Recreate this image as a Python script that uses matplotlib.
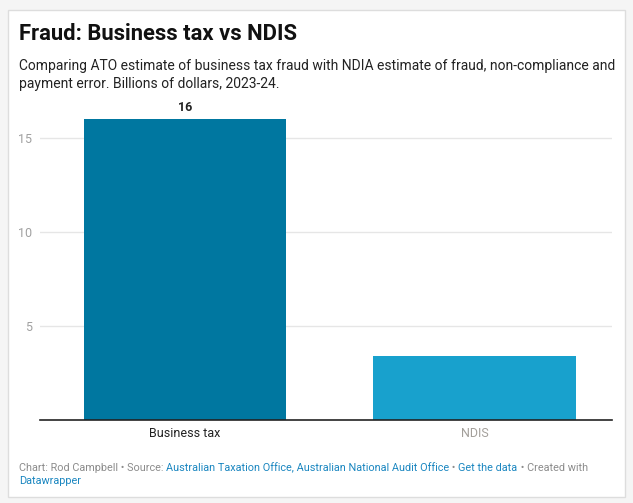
import matplotlib
matplotlib.use("Agg")
import matplotlib.pyplot as plt
from matplotlib.patches import Rectangle

categories = ["Business tax", "NDIS"]
values = [16, 3.4]
bar_colors = ["#0077a0", "#18a1cd"]
label_colors = ["#222222", "#a39f9a"]
yticks = [5, 10, 15]

title = "Fraud: Business tax vs NDIS"
subtitle = ("Comparing ATO estimate of business tax fraud with NDIA estimate of fraud, non-compliance and\n"
            "payment error. Billions of dollars, 2023-24.")
footer_line1 = [("Chart: Rod Campbell • Source: ", "#8c8c8c"),
                ("Australian Taxation Office, Australian National Audit Office", "#1a86c0"),
                (" • ", "#8c8c8c"),
                ("Get the data", "#1a86c0"),
                (" • Created with", "#8c8c8c")]
footer_line2 = [("Datawrapper", "#1a86c0")]

plt.rcParams['font.family'] = ['Roboto', 'DejaVu Sans']

W, H = 633, 503
fig = plt.figure(figsize=(W / 100, H / 100), dpi=100)
fig.patch.set_facecolor("#f5f5f5")

# white card
card = Rectangle((8 / W, 1 - 497 / H), (625 - 8) / W, (497 - 10) / H,
                 transform=fig.transFigure, facecolor="white",
                 edgecolor="#dddddd", linewidth=1, zorder=-5)
fig.patches.append(card)

ax_left, ax_right, ax_bottom, ax_top = 40, 612, 420, 100
ax = fig.add_axes([ax_left / W, 1 - ax_bottom / H, (ax_right - ax_left) / W, (ax_bottom - ax_top) / H])
ax.set_zorder(2)
ax.set_facecolor("none")
px_per_unit = 94 / 5
ax.set_ylim(0, (ax_bottom - ax_top) / px_per_unit)
ax.set_xlim(-0.5, 1.475)

x = list(range(len(categories)))
ax.bar(x, values, width=0.698, color=bar_colors, zorder=3)
ax.set_yticks(yticks)
ax.set_yticklabels([str(t) for t in yticks])
ax.grid(axis="y", color="#e6e6e6", linewidth=1, zorder=0)
ax.tick_params(axis="y", length=0, pad=6, labelsize=9, labelcolor="#a0a0a0")
ax.set_xticks(x)
ax.set_xticklabels(categories)
ax.tick_params(axis="x", length=0, pad=5, labelsize=9)
for lbl, c in zip(ax.get_xticklabels(), label_colors):
    lbl.set_color(c)
for s in ["top", "right", "left"]:
    ax.spines[s].set_visible(False)
ax.spines["bottom"].set_color("#222222")
ax.spines["bottom"].set_linewidth(1.2)
ax.spines["bottom"].set_zorder(4)

# value label for first bar
ax.annotate(str(values[0]), (x[0], values[0]), xytext=(0, 4), textcoords="offset points",
            ha="center", va="bottom", fontsize=9, fontweight="bold", color="#222222")

fig.text(19 / W, 1 - 34 / H, title, fontsize=15.8, fontweight="bold", color="#111111",
         ha="left", va="center")
fig.text(19 / W, 1 - 75 / H, subtitle, fontsize=10.0, color="#222222", ha="left", va="center",
         linespacing=1.3)

fig.canvas.draw()
renderer = fig.canvas.get_renderer()

def draw_chunks(chunks, x0, ycenter):
    xpos = x0
    for txt, col in chunks:
        t = fig.text(xpos / W, 1 - ycenter / H, txt, fontsize=7.8, color=col, ha="left", va="center")
        bb = t.get_window_extent(renderer=renderer)
        xpos += bb.width

draw_chunks(footer_line1, 19, 468)
draw_chunks(footer_line2, 19, 481)

fig.savefig("out.png", dpi=100, facecolor=fig.get_facecolor())
